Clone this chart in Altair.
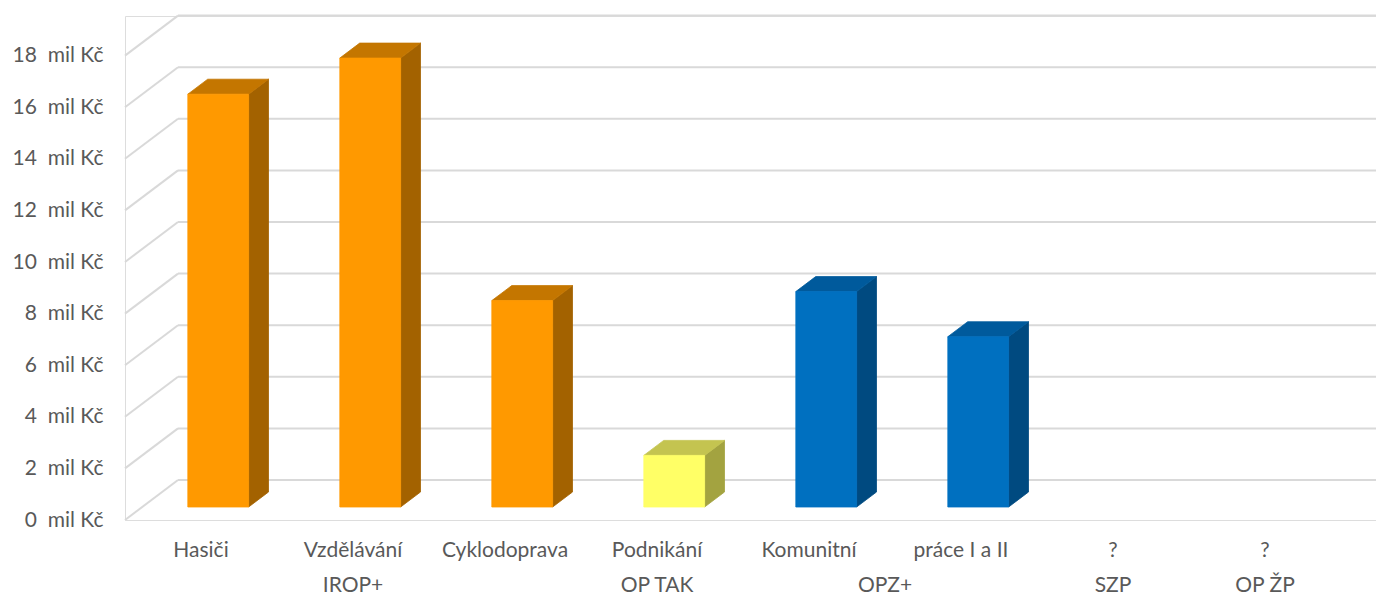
import altair as alt
import pandas as pd

# ---------------- data ----------------
categories = ["Hasiči", "Vzdělávání", "Cyklodoprava", "Podnikání",
              "Komunitní", "práce I a II", "?", "?"]
programmes = ["IROP+", "IROP+", "IROP+", "OP TAK", "OPZ+", "OPZ+", "SZP", "OP ŽP"]
values_mil = [16.0, 17.4, 8.0, 2.0, 8.35, 6.6, None, None]
y_ticks = [0, 2, 4, 6, 8, 10, 12, 14, 16, 18]

# ---------------- style ----------------
FONT = "Lato"
TXT = "#595959"
GRID = "#D9D9D9"
PALETTE = {  # front, top, side
    "IROP+": ("#FF9900", "#C47600", "#A36200"),
    "OP TAK": ("#FFFF66", "#C4C450", "#A3A340"),
    "OPZ+": ("#0070C0", "#005A9C", "#004A80"),
}
W, H = 1251, 504
XMAX = W / 152.0
YMAX = H / 25.8
DX, DY = 53 / 152.0, 40 / 25.8      # oblique depth offset (x units, y units)
D0, D1 = 0.325, 0.70                # bar depth range (fraction of floor depth)
BL, BR = 0.30, 0.70                 # bar left/right inside category

xs = alt.Scale(domain=[0, XMAX], nice=False, zero=False)
ys = alt.Scale(domain=[0, YMAX], nice=False, zero=False)
Y_AXIS = alt.Axis(values=y_ticks, labelExpr="datum.value + '\u00a0 mil Kč'",
                  domain=False, ticks=False, grid=False, title=None,
                  labelPadding=22, labelFont=FONT, labelFontSize=21,
                  labelColor=TXT)

# ---------------- tables ----------------
grid_df = pd.DataFrame({"v": y_ticks})
grid_df["y"] = grid_df["v"]
grid_df["yb"] = grid_df["v"] + DY
grid_df["x0"] = 0.0
grid_df["xb"] = DX
grid_df["xe"] = XMAX

front, side, top = [], [], []
for i, (c, p, v) in enumerate(zip(categories, programmes, values_mil)):
    if v is None:
        continue
    fc, tc, sc = PALETTE[p]
    front.append({"x": i + BL + D0 * DX, "x2": i + BR + D0 * DX,
                  "y": D0 * DY, "y2": v + D0 * DY, "c": fc, "k": i})
    for d in (D0, D1):
        side.append({"x": i + BR + d * DX, "y": d * DY, "y2": v + d * DY,
                     "c": sc, "k": i})
        top.append({"y": v + d * DY, "x": i + BL + d * DX,
                    "x2": i + BR + d * DX, "c": tc, "k": i})
front_df, side_df, top_df = map(pd.DataFrame, (front, side, top))

lab1 = pd.DataFrame({"x": [i + 0.5 for i in range(len(categories))],
                     "t": categories})
grp = pd.DataFrame({"p": programmes, "i": range(len(programmes))})
lab2 = (grp.groupby("p", sort=False)["i"].agg(["min", "max"]).reset_index())
lab2["x"] = (lab2["min"] + lab2["max"]) / 2 + 0.5

# ---------------- layers ----------------
back = alt.Chart(grid_df).mark_rule(color=GRID, strokeWidth=2).encode(
    x=alt.X("xb:Q", scale=xs, axis=None), x2="xe:Q",
    y=alt.Y("yb:Q", scale=ys, axis=Y_AXIS))
diag = alt.Chart(grid_df).mark_rule(color=GRID, strokeWidth=2).encode(
    x=alt.X("x0:Q", scale=xs, axis=None), x2="xb:Q",
    y=alt.Y("y:Q", scale=ys, axis=Y_AXIS), y2="yb:Q")

side_l = alt.Chart(side_df).mark_area(orient="vertical", strokeWidth=0.8).encode(
    x=alt.X("x:Q", scale=xs, axis=None),
    y=alt.Y("y:Q", scale=ys, axis=Y_AXIS), y2="y2:Q",
    detail="k:N",
    color=alt.Color("c:N", scale=None), stroke=alt.Stroke("c:N", scale=None))
top_l = alt.Chart(top_df).mark_area(orient="horizontal", strokeWidth=0.8).encode(
    y=alt.Y("y:Q", scale=ys, axis=Y_AXIS),
    x=alt.X("x:Q", scale=xs, axis=None), x2="x2:Q",
    detail="k:N",
    color=alt.Color("c:N", scale=None), stroke=alt.Stroke("c:N", scale=None))
front_l = alt.Chart(front_df).mark_rect(strokeWidth=0.8).encode(
    x=alt.X("x:Q", scale=xs, axis=None), x2="x2:Q",
    y=alt.Y("y:Q", scale=ys, axis=Y_AXIS), y2="y2:Q",
    color=alt.Color("c:N", scale=None), stroke=alt.Stroke("c:N", scale=None))

row1 = alt.Chart(lab1).mark_text(font=FONT, fontSize=21, color=TXT,
                                 baseline="alphabetic", align="center").encode(
    x=alt.X("x:Q", scale=xs, axis=None), y=alt.value(541), text="t:N")
row2 = alt.Chart(lab2).mark_text(font=FONT, fontSize=21, color=TXT,
                                 baseline="alphabetic", align="center").encode(
    x=alt.X("x:Q", scale=xs, axis=None), y=alt.value(576), text="p:N")

chart = alt.layer(back, diag, side_l, top_l, front_l, row1, row2).properties(
    width=W, height=H,
    padding={"left": 117, "top": 8, "right": 0, "bottom": 77},
    autosize=alt.AutoSizeParams(type="none"),
).configure_view(stroke=None).configure(background="white")

chart.save("out.html", embed_options={"renderer": "svg", "actions": False})
